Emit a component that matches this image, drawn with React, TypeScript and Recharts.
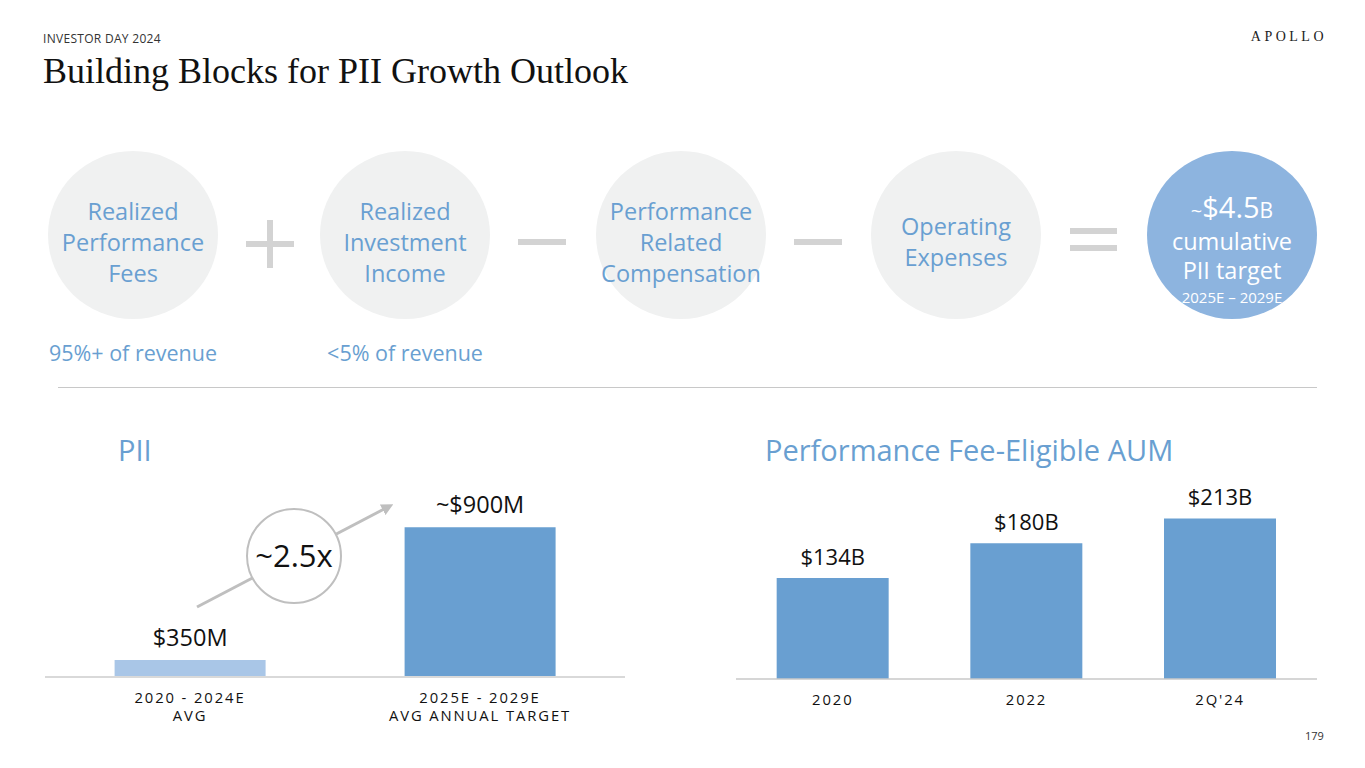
import { Bar, BarChart, Cell, LabelList, XAxis, YAxis } from "recharts";

// PII chart
const piiCategories = ["2020 - 2024E", "2025E - 2029E"];
const piiSubLabels = ["AVG", "AVG ANNUAL TARGET"];
const piiValues = [350, 900];
const piiLabels = ["$350M", "~$900M"];
const piiColors = ["#A9C6E7", "#699FD1"];

// Performance fee-eligible AUM chart
const aumCategories = ["2020", "2022", "2Q'24"];
const aumValues = [134, 180, 213];
const aumLabels = ["$134B", "$180B", "$213B"];

// building blocks row
const blockTexts = [
  ["Realized", "Performance", "Fees"],
  ["Realized", "Investment", "Income"],
  ["Performance", "Related", "Compensation"],
  ["Operating", "Expenses"],
];
const blockNotes = ["95%+ of revenue", "<5% of revenue", "", ""];

const SANS = "'Open Sans', 'Noto Sans', sans-serif";
const BLUE = "#699FD1";

const piiData = piiCategories.map((c, i) => ({
  name: c,
  sub: piiSubLabels[i],
  value: piiValues[i],
  label: piiLabels[i],
}));

const aumData = aumCategories.map((c, i) => ({
  name: c,
  value: aumValues[i],
  label: aumLabels[i],
}));

function TwoLineTick(props: any) {
  const { x, y, payload } = props;
  const row = piiData.find((d) => d.name === payload.value);
  return (
    <g transform={`translate(${x},${y})`}>
      <text textAnchor="middle" fontSize={14.8} fill="#111" fontFamily={SANS} style={{ letterSpacing: 1.9 }}>
        <tspan x={0} dy={18}>{payload.value}</tspan>
        <tspan x={0} dy={18}>{row ? row.sub : ""}</tspan>
      </text>
    </g>
  );
}

function OneLineTick(props: any) {
  const { x, y, payload } = props;
  return (
    <text x={x} y={y + 18} textAnchor="middle" fontSize={14.8} fill="#111" fontFamily={SANS} style={{ letterSpacing: 1.9 }}>
      {payload.value}
    </text>
  );
}

const centers = [133, 405, 681, 956];

export default function App() {
  return (
    <div
      style={{
        position: "fixed",
        left: 0,
        top: 0,
        width: 1365,
        height: 768,
        background: "#fff",
        overflow: "hidden",
        fontFamily: SANS,
      }}
    >
      <div style={{ position: "absolute", left: 43, top: 30, fontSize: 12, color: "#333", letterSpacing: 0.3 }}>
        INVESTOR DAY 2024
      </div>
      <div
        style={{
          position: "absolute",
          right: 38,
          top: 29,
          fontSize: 14,
          color: "#222",
          fontFamily: "'Liberation Serif', serif",
          letterSpacing: 3.5,
        }}
      >
        APOLLO
      </div>
      <div
        style={{
          position: "absolute",
          left: 43,
          top: 50,
          fontSize: 36,
          color: "#111",
          fontFamily: "'Liberation Serif', serif",
          whiteSpace: "nowrap",
        }}
      >
        Building Blocks for PII Growth Outlook
      </div>

      {/* building blocks */}
      {blockTexts.map((lines, i) => (
        <div key={i}>
          <div
            style={{
              position: "absolute",
              left: centers[i] - 85,
              top: 151,
              width: 170,
              height: 168,
              borderRadius: "50%",
              background: "#F0F1F1",
            }}
          />
          <div
            style={{
              position: "absolute",
              left: centers[i] - 100,
              width: 200,
              top: 242 - (lines.length * 31) / 2,
              textAlign: "center",
              fontSize: 23.5,
              lineHeight: "31px",
              color: BLUE,
              whiteSpace: "nowrap",
            }}
          >
            {lines.map((l, j) => (
              <div key={j}>{l}</div>
            ))}
          </div>
          {blockNotes[i] && (
            <div
              style={{
                position: "absolute",
                left: centers[i] - 120,
                width: 240,
                top: 338,
                textAlign: "center",
                fontSize: 21.5,
                color: BLUE,
              }}
            >
              {blockNotes[i]}
            </div>
          )}
        </div>
      ))}

      <svg style={{ position: "absolute", left: 0, top: 0 }} width={1365} height={768}>
        <ellipse cx={1232} cy={235} rx={85} ry={84} fill="#8DB4DF" />
        <text textAnchor="middle" fill="#fff" fontFamily={SANS}>
          <tspan x={1232} y={218} fontSize={20}>~</tspan>
          <tspan fontSize={29}>$4.5</tspan>
          <tspan fontSize={21}>B</tspan>
          <tspan x={1232} y={250} fontSize={23.5}>cumulative</tspan>
          <tspan x={1232} y={279} fontSize={23.5}>PII target</tspan>
          <tspan x={1232} y={303} fontSize={15}>2025E – 2029E</tspan>
        </text>
        <g stroke="#D3D3D3" strokeWidth={6}>
          <line x1={246} y1={244} x2={294} y2={244} />
          <line x1={270} y1={220} x2={270} y2={268} />
          <line x1={518} y1={242} x2={566} y2={242} />
          <line x1={794} y1={242} x2={842} y2={242} />
          <line x1={1070} y1={231} x2={1117} y2={231} />
          <line x1={1070} y1={248} x2={1117} y2={248} />
        </g>
        <line x1={58} y1={387.5} x2={1317} y2={387.5} stroke="#C8C8C8" strokeWidth={1} />
      </svg>

      <div style={{ position: "absolute", left: 118, top: 430, fontSize: 29, color: BLUE }}>PII</div>
      <div style={{ position: "absolute", left: 765, top: 430, fontSize: 29, color: BLUE, whiteSpace: "nowrap" }}>
        Performance Fee-Eligible AUM
      </div>

      <div style={{ position: "absolute", left: 0, top: 460 }}>
        <BarChart
          width={680}
          height={280}
          data={piiData}
          margin={{ top: 19, right: 55, bottom: 13, left: 45 }}
          barCategoryGap="24%"
        >
          <XAxis
            dataKey="name"
            height={50}
            axisLine={{ stroke: "#D9D9D9", strokeWidth: 2 }}
            tickLine={false}
            tick={<TwoLineTick />}
            interval={0}
          />
          <YAxis hide domain={[280, 1100]} />
          <Bar dataKey="value" isAnimationActive={false}>
            {piiData.map((d, i) => (
              <Cell key={d.name} fill={piiColors[i]} />
            ))}
            <LabelList dataKey="label" position="top" offset={14} fill="#111" fontSize={23.5} fontFamily={SANS} />
          </Bar>
        </BarChart>
      </div>

      <div style={{ position: "absolute", left: 700, top: 460 }}>
        <BarChart
          width={665}
          height={280}
          data={aumData}
          margin={{ top: 23, right: 48, bottom: 11, left: 36 }}
          barCategoryGap="21%"
        >
          <XAxis
            dataKey="name"
            height={50}
            axisLine={{ stroke: "#C8C8C8", strokeWidth: 1.5 }}
            tickLine={false}
            tick={<OneLineTick />}
            interval={0}
          />
          <YAxis hide domain={[0, 260]} />
          <Bar dataKey="value" fill={BLUE} isAnimationActive={false}>
            <LabelList dataKey="label" position="top" offset={13} fill="#111" fontSize={22} fontFamily={SANS} />
          </Bar>
        </BarChart>
      </div>

      {/* growth annotation */}
      <svg style={{ position: "absolute", left: 0, top: 0, pointerEvents: "none" }} width={1365} height={768}>
        <defs>
          <marker id="arrowHead" markerWidth={4} markerHeight={4} refX={2} refY={2} orient="auto" markerUnits="strokeWidth">
            <path d="M0,0 L4,2 L0,4 z" fill="#BFBFBF" />
          </marker>
        </defs>
        <line x1={197} y1={607} x2={388} y2={507} stroke="#BFBFBF" strokeWidth={3} markerEnd="url(#arrowHead)" />
        <circle cx={294} cy={556} r={47} fill="#fff" stroke="#BFBFBF" strokeWidth={2} />
        <text x={294} y={567} textAnchor="middle" fontSize={31} fill="#111" fontFamily={SANS}>
          ~2.5x
        </text>
      </svg>

      <div style={{ position: "absolute", left: 1305, top: 728, fontSize: 11, color: "#333" }}>179</div>
    </div>
  );
}
